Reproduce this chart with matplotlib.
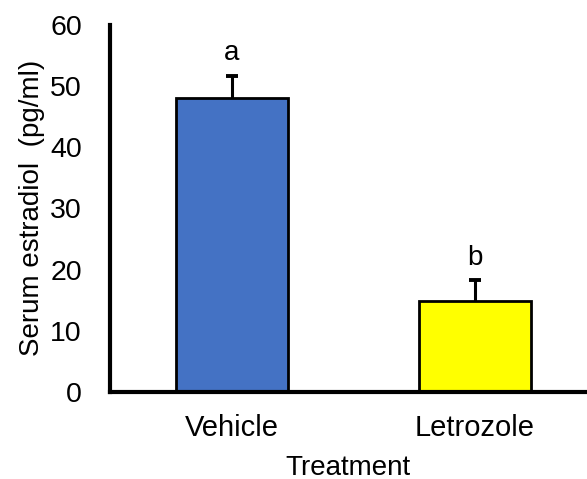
import matplotlib.pyplot as plt

plt.rcParams['font.family'] = ['Liberation Sans', 'DejaVu Sans']

treatments = ['Vehicle', 'Letrozole']
means = [48.0, 14.9]
errors = [3.7, 3.4]
letters = ['a', 'b']
colors = ['#4472C4', '#FFFF00']

fig = plt.figure(figsize=(5.87, 4.79), dpi=100)
ax = fig.add_axes([0.187, 0.182, 0.813, 0.766])

x = range(len(treatments))
ax.bar(x, means, width=0.46, color=colors, edgecolor='black', linewidth=2, zorder=2)
# symmetric error bars, the bar hides the lower half
ax.errorbar(x, means, yerr=errors, fmt='none', ecolor='black',
            elinewidth=2.2, capsize=4.5, capthick=2.8, zorder=1)

for xi, m, e, lab in zip(x, means, errors, letters):
    ax.text(xi, m + e + 1.5, lab, ha='center', va='bottom', fontsize=20)

ax.set_xlim(-0.5, 1.46)
ax.set_ylim(0, 60)
ax.set_yticks([0, 10, 20, 30, 40, 50, 60])
ax.set_xticks(list(x))
ax.set_xticklabels(treatments)
ax.tick_params(axis='y', length=0, labelsize=20.5, pad=20)
ax.tick_params(axis='x', length=0, labelsize=21, pad=16)

for side in ['top', 'right']:
    ax.spines[side].set_visible(False)
for side in ['left', 'bottom']:
    ax.spines[side].set_linewidth(3)

ax.set_ylabel('Serum estradiol  (pg/ml)', fontsize=20, labelpad=4)
ax.set_xlabel('Treatment', fontsize=20, labelpad=9)

fig.savefig('out.png', dpi=100)
